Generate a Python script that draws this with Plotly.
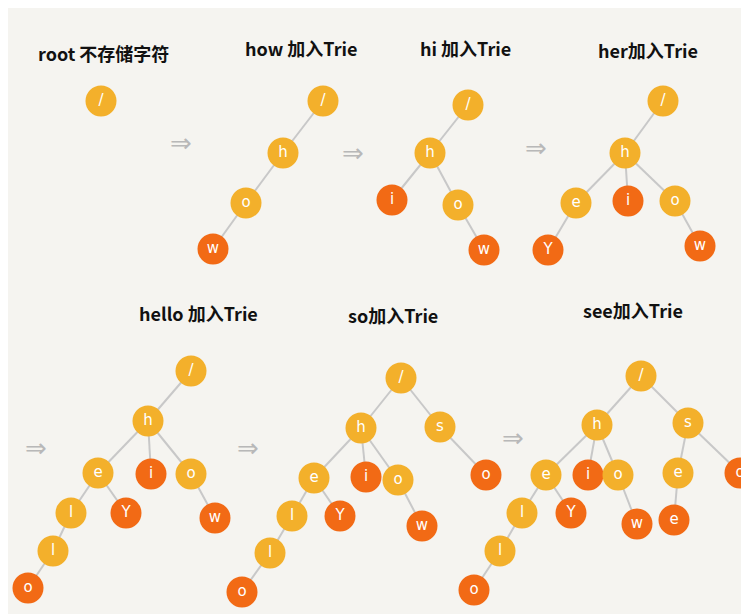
import plotly.graph_objects as go

# node data: x, y (pixel coords), label, word-end flag, parent index (within tree, -1 = root)
trees = [
    dict(x=[93], y=[93], lab=["/"], end=[0], par=[-1]),
    dict(x=[315, 275, 238, 205], y=[93, 145, 195, 241],
         lab=["/", "h", "o", "w"], end=[0, 0, 0, 1], par=[-1, 0, 1, 2]),
    dict(x=[460, 422, 384, 450, 476], y=[97, 145, 192, 197, 242],
         lab=["/", "h", "i", "o", "w"], end=[0, 0, 1, 0, 1], par=[-1, 0, 1, 1, 3]),
    dict(x=[655, 617, 568, 620, 667, 540, 692], y=[93, 145, 195, 193, 193, 242, 238],
         lab=["/", "h", "e", "i", "o", "Y", "w"], end=[0, 0, 0, 1, 0, 1, 1],
         par=[-1, 0, 1, 1, 1, 2, 4]),
    dict(x=[183, 140, 90, 143, 183, 118, 207, 63, 45, 20],
         y=[363, 413, 465, 466, 466, 505, 510, 505, 543, 580],
         lab=["/", "h", "e", "i", "o", "Y", "w", "l", "l", "o"],
         end=[0, 0, 0, 1, 0, 1, 1, 0, 0, 1], par=[-1, 0, 1, 1, 1, 2, 4, 2, 7, 8]),
    dict(x=[393, 353, 432, 306, 358, 390, 478, 332, 414, 284, 262, 234],
         y=[370, 420, 419, 470, 469, 472, 467, 508, 518, 508, 545, 584],
         lab=["/", "h", "s", "e", "i", "o", "o", "Y", "w", "l", "l", "o"],
         end=[0, 0, 0, 0, 1, 0, 1, 1, 1, 0, 0, 1],
         par=[-1, 0, 0, 1, 1, 1, 2, 3, 5, 3, 9, 10]),
    dict(x=[633, 589, 680, 538, 580, 610, 670, 732, 563, 629, 666, 514, 492, 466],
         y=[368, 417, 415, 467, 467, 467, 465, 465, 505, 516, 512, 505, 543, 582],
         lab=["/", "h", "s", "e", "i", "o", "e", "o", "Y", "w", "e", "l", "l", "o"],
         end=[0, 0, 0, 0, 1, 0, 0, 1, 1, 1, 1, 0, 0, 1],
         par=[-1, 0, 0, 1, 1, 1, 2, 2, 3, 5, 6, 3, 11, 12]),
]

titles = ["root 不存储字符", "how 加入Trie", "hi 加入Trie", "her加入Trie",
          "hello 加入Trie", "so加入Trie", "see加入Trie"]
title_x = [95, 293, 457, 640, 190, 385, 625]
title_y = [45, 40, 40, 42, 305, 307, 302]
arrow_x = [173, 345, 528, 28, 240, 505]
arrow_y = [135, 145, 140, 440, 440, 430]

YELLOW = "#f3b02b"
ORANGE = "#f26a15"

fig = go.Figure()

ex, ey = [], []
for t in trees:
    for i, p in enumerate(t["par"]):
        if p >= 0:
            ex += [t["x"][p], t["x"][i], None]
            ey += [t["y"][p], t["y"][i], None]
fig.add_trace(go.Scatter(x=ex, y=ey, mode="lines",
                         line=dict(color="#c8c8c8", width=2), hoverinfo="skip"))

nx, ny, nl, nc = [], [], [], []
for t in trees:
    nx += t["x"]
    ny += t["y"]
    nl += t["lab"]
    nc += [ORANGE if e else YELLOW for e in t["end"]]
fig.add_trace(go.Scatter(x=nx, y=ny, mode="markers+text", text=nl,
                         marker=dict(size=31, color=nc, line=dict(width=0)),
                         textfont=dict(color="white", size=15, family="DejaVu Sans"),
                         textposition="middle center", hoverinfo="skip"))

for s, x, y in zip(titles, title_x, title_y):
    fig.add_annotation(x=x, y=y, text="<b>" + s + "</b>", showarrow=False,
                       font=dict(size=18, color="#111", family="Noto Sans CJK SC"))
for x, y in zip(arrow_x, arrow_y):
    fig.add_annotation(x=x, y=y, text="⇒", showarrow=False,
                       font=dict(size=26, color="#b8b8b8", family="DejaVu Sans"))

fig.update_layout(width=749, height=614, margin=dict(l=0, r=0, t=0, b=0),
                  paper_bgcolor="#f5f4f0", plot_bgcolor="#f5f4f0", showlegend=False,
                  xaxis=dict(range=[0, 749], visible=False, fixedrange=True),
                  yaxis=dict(range=[614, 0], visible=False, fixedrange=True))
fig.write_html("out.html")
